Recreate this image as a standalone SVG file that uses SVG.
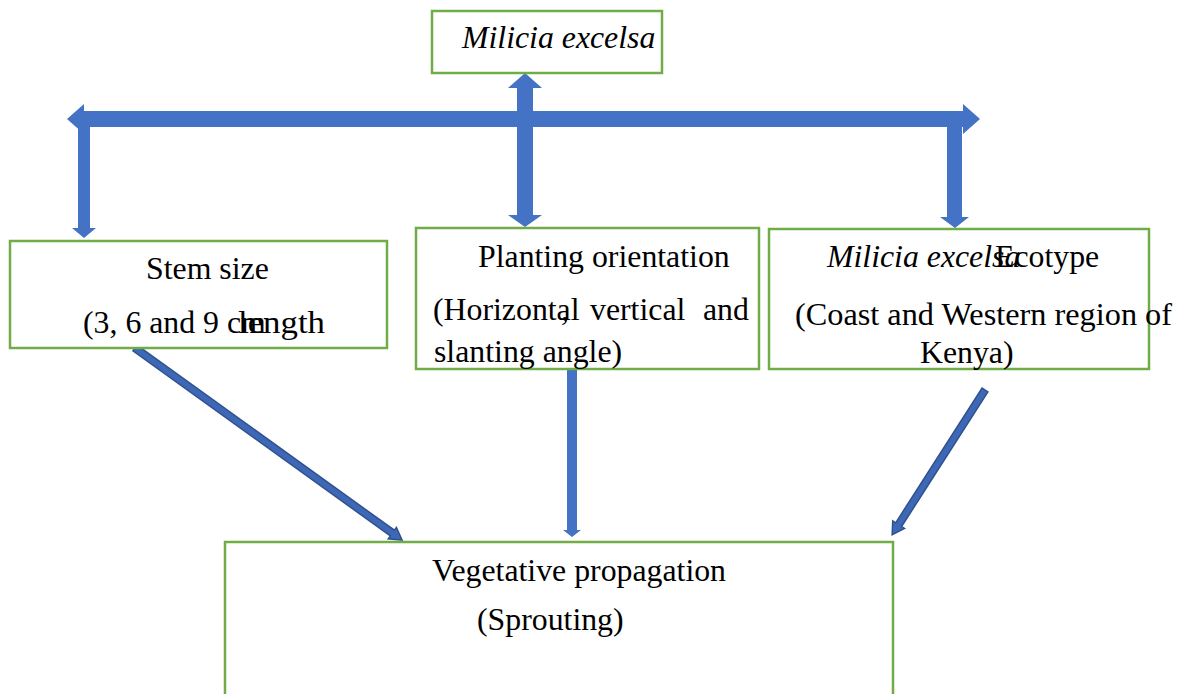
<svg xmlns="http://www.w3.org/2000/svg" width="1184" height="694" viewBox="0 0 1184 694">
<style>
.box{fill:#fff;stroke:#70AD47;stroke-width:2.5}
.t{font-family:"Liberation Serif","Times New Roman",serif;font-size:31.8px;fill:#000}
.i{font-style:italic}
.arr{fill:#4472C4}
.dg{fill:#3E67B5;stroke:#2F528F;stroke-width:1.5}
</style>
<rect width="1184" height="694" fill="#fff"/>
<g id="connectors">
<polygon class="arr" points="67,119 84,104 84,111 963,111 963,104 980,119 963,134 963,127 84,127 84,134"/>
<polygon class="arr" points="78,127 90,127 90,228 96,228 84,238 72,228 78,228"/>
<polygon class="arr" points="525,73 542,88 533,88 533,215 542,215 525,227 508,215 517,215 517,88 508,88"/>
<polygon class="arr" points="947,127 962,127 962,217 969,217 955,228 940,217 947,217"/>
<polygon class="arr" points="567,370 577,370 577,530 581,530 572,537 563,530 567,530"/>
<polygon class="dg" transform="translate(135,348) rotate(35.72)" points="0,-3.5 317,-3.5 317,-7 329,0 317,7 317,3.5 0,3.5"/>
<polygon class="dg" transform="translate(985,390) rotate(122.67)" points="0,-3.5 160,-3.5 160,-7 172,0 160,7 160,3.5 0,3.5"/>
</g>
<g id="top">
<rect class="box" x="432" y="11" width="230" height="62"/>
<text class="t i" x="462" y="48">Milicia excelsa</text>
</g>
<g id="stem">
<rect class="box" x="10" y="241" width="377" height="107"/>
<text class="t" x="146" y="279">Stem size</text>
<text class="t" x="83" y="333">(3, 6 and 9 cm</text>
<text class="t" x="238" y="333" textLength="87" lengthAdjust="spacingAndGlyphs">length</text>
</g>
<g id="planting">
<rect class="box" x="416" y="228" width="343" height="141"/>
<text class="t" x="478" y="267">Planting orientation</text>
<text class="t" x="433" y="320">(Horizontal</text>
<text class="t" x="561" y="320">,</text>
<text class="t" x="590" y="320">vertical</text>
<text class="t" x="703" y="320">and</text>
<text class="t" x="434" y="362">slanting angle)</text>
</g>
<g id="ecotype">
<rect class="box" x="769" y="229" width="380" height="140"/>
<text class="t i" x="827" y="267">Milicia excelsa</text>
<text class="t" x="995" y="267">Ecotype</text>
<text class="t" x="795" y="325" textLength="377" lengthAdjust="spacingAndGlyphs">(Coast and Western region of</text>
<text class="t" x="920" y="363">Kenya)</text>
</g>
<g id="vegetative">
<rect class="box" x="225" y="542" width="668" height="170"/>
<text class="t" x="432" y="581">Vegetative propagation</text>
<text class="t" x="477" y="630">(Sprouting)</text>
</g>
</svg>
